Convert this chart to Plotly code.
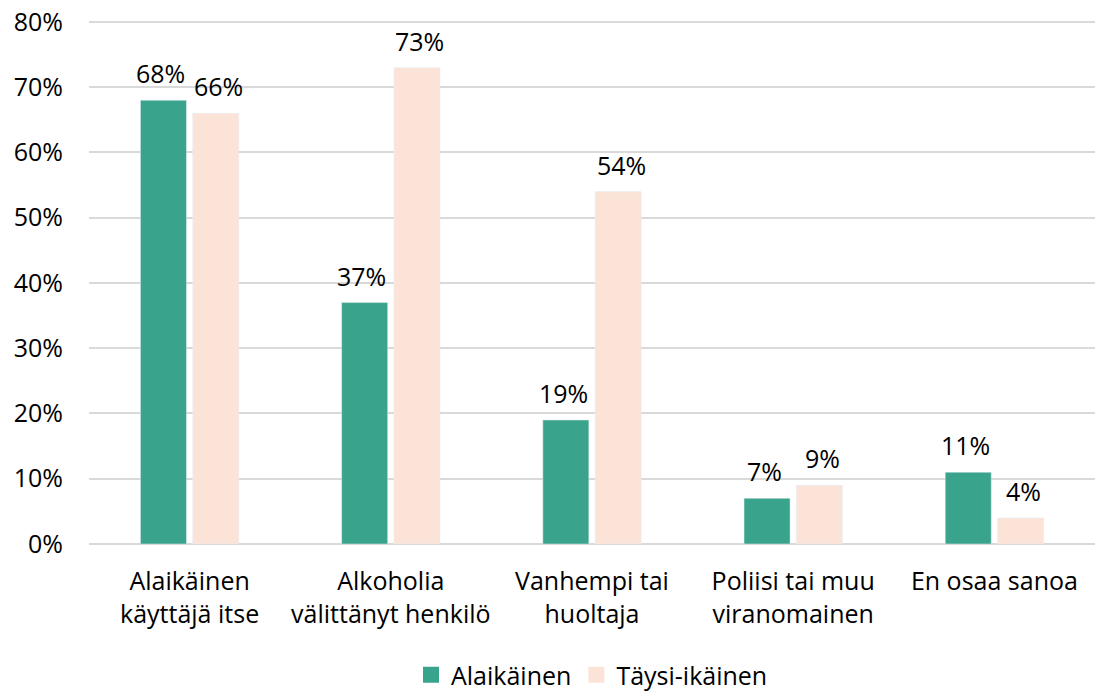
import plotly.graph_objs as go

categories = ["Alaikäinen<br>käyttäjä itse", "Alkoholia<br>välittänyt henkilö",
              "Vanhempi tai<br>huoltaja", "Poliisi tai muu<br>viranomainen", "En osaa sanoa"]
alaikainen = [68, 37, 19, 7, 11]
taysi_ikainen = [66, 73, 54, 9, 4]

FONT = "Open Sans"
SIZE = 25
GREEN = "#3aa38c"
PEACH = "#fbe4d7"

fig = go.Figure()
fig.add_trace(go.Bar(x=categories, y=alaikainen, name="Alaikäinen", marker_color=GREEN,
                     offsetgroup="a", showlegend=False))
fig.add_trace(go.Bar(x=categories, y=taysi_ikainen, name="Täysi-ikäinen", marker_color=PEACH,
                     offsetgroup="b", showlegend=False))

# legend entries with bigger square swatches
for name, color in [("Alaikäinen", GREEN), ("Täysi-ikäinen", PEACH)]:
    fig.add_trace(go.Scatter(x=[None], y=[None], mode="markers", name=name,
                             marker=dict(symbol="square", size=18, color=color)))

# value labels above the bars
for i, cat in enumerate(categories):
    fig.add_annotation(x=i, y=alaikainen[i], text="{}%".format(alaikainen[i]), xref="x", yref="y",
                       xshift=-29, yshift=8, yanchor="bottom", showarrow=False,
                       font=dict(size=SIZE, family=FONT, color="black"))
    fig.add_annotation(x=i, y=taysi_ikainen[i], text="{}%".format(taysi_ikainen[i]), xref="x", yref="y",
                       xshift=29, yshift=8, yanchor="bottom", showarrow=False,
                       font=dict(size=SIZE, family=FONT, color="black"))

fig.update_layout(
    width=1103, height=693,
    margin=dict(l=81, r=16, t=12, b=157, autoexpand=False),
    plot_bgcolor="white", paper_bgcolor="white",
    font=dict(family=FONT, size=SIZE, color="black"),
    barmode="group", bargap=0.48, bargroupgap=0.12,
    showlegend=True,
    legend=dict(orientation="h", x=0.5, xanchor="center", y=-0.25, yanchor="middle",
                font=dict(size=SIZE), itemsizing="trace", tracegroupgap=0),
    xaxis=dict(showgrid=False, showline=False, ticks="", tickfont=dict(size=SIZE),
               automargin=False, ticklabelstandoff=20),
    yaxis=dict(range=[0, 80.3], dtick=10, ticksuffix="%", showgrid=True, gridcolor="#d9d9d9",
               gridwidth=2, zeroline=True, zerolinecolor="#d9d9d9", zerolinewidth=2,
               showline=False, ticks="", tickfont=dict(size=SIZE), automargin=False,
               ticklabelstandoff=25, ticklabeloverflow="allow"),
)

fig.write_html("out.html")
